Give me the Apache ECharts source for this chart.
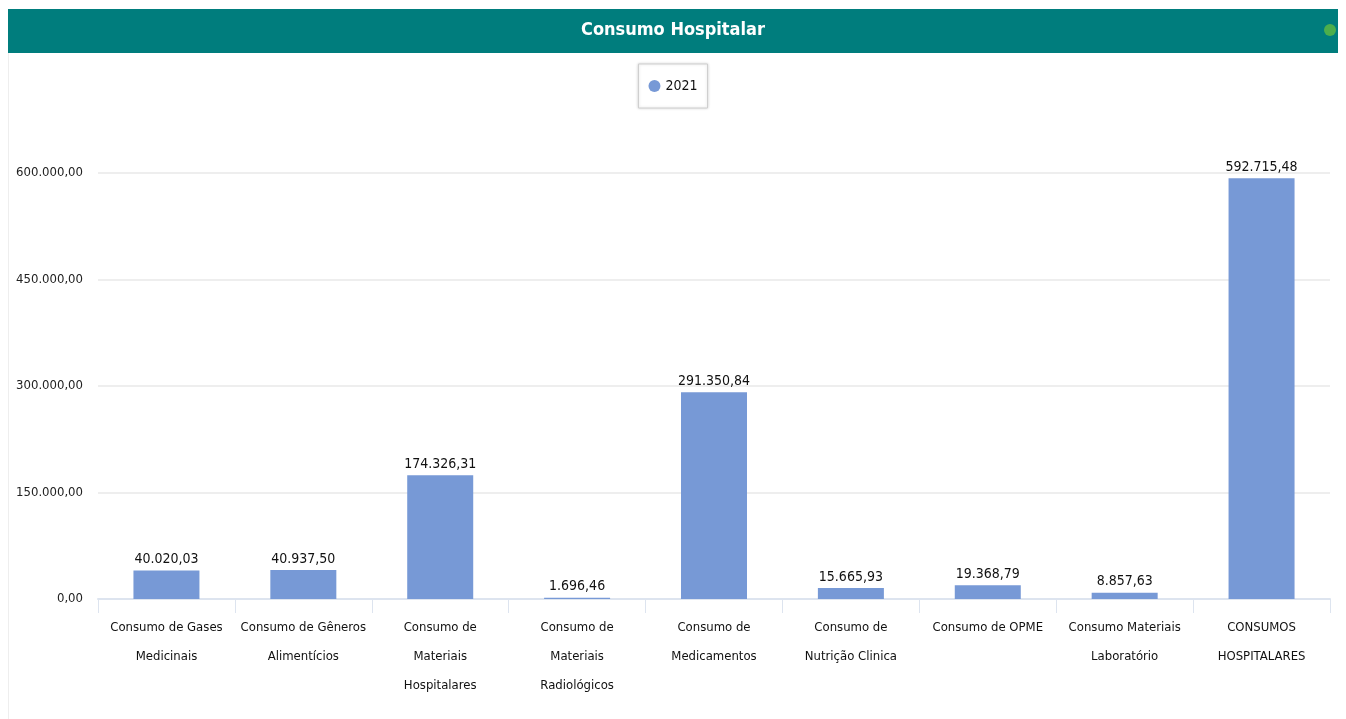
<!DOCTYPE html>
<html>
<head>
<meta charset="utf-8">
<script src="https://cdn.jsdelivr.net/npm/echarts@6/dist/echarts.min.js"></script>
<style>
  html, body { margin: 0; padding: 0; background: #fff; }
  #chart { width: 1346px; height: 719px; }
</style>
</head>
<body>
<div id="chart"></div>
<script>
const categories = [
  "Consumo de Gases\nMedicinais",
  "Consumo de Gêneros\nAlimentícios",
  "Consumo de\nMateriais\nHospitalares",
  "Consumo de\nMateriais\nRadiológicos",
  "Consumo de\nMedicamentos",
  "Consumo de\nNutrição Clinica",
  "Consumo de OPME",
  "Consumo Materiais\nLaboratório",
  "CONSUMOS\nHOSPITALARES"
];
const values2021 = [40020.03, 40937.5, 174326.31, 1696.46, 291350.84, 15665.93, 19368.79, 8857.63, 592715.48];
const yTicks = { min: 0, max: 600000, interval: 150000 };

const FONT = '"Liberation Sans Narrow", "DejaVu Sans Condensed", "Roboto", sans-serif';

// pt-BR style number: 600.000,00
function fmt(v) {
  const [int, dec] = Number(v).toFixed(2).split(".");
  return int.replace(/\B(?=(\d{3})+(?!\d))/g, ".") + "," + dec;
}

const chart = echarts.init(document.getElementById("chart"));
chart.setOption({
  animation: false,
  textStyle: { fontFamily: FONT },
  graphic: [
    { type: "rect", left: 8, top: 9, shape: { width: 1330, height: 44 }, style: { fill: "#007d7d" } },
    { type: "rect", left: 8, top: 53, shape: { width: 1, height: 666 }, style: { fill: "#eeeeee" } },
    { type: "text", left: "center", top: 21, style: { text: "Consumo Hospitalar", fill: "#fff", font: 'bold 18px ' + FONT } },
    { type: "circle", left: 1324, top: 24, shape: { r: 6 }, style: { fill: "#4cae4c" } }
  ],
  legend: {
    top: 64,
    left: "center",
    data: ["2021"],
    icon: "circle",
    itemWidth: 12,
    itemHeight: 12,
    itemGap: 6,
    padding: [15, 10],
    borderColor: "#cfcfcf",
    borderWidth: 1,
    shadowColor: "rgba(0,0,0,0.15)",
    shadowBlur: 3,
    backgroundColor: "#fff",
    textStyle: { fontSize: 14, color: "#111", fontFamily: FONT }
  },
  grid: { left: 98, right: 16, top: 173, bottom: 120 },
  xAxis: {
    type: "category",
    data: categories,
    axisLine: { lineStyle: { color: "#dde4ef", width: 2 } },
    axisTick: { show: true, alignWithLabel: false, length: 14, lineStyle: { color: "#dde4ef" } },
    axisLabel: { interval: 0, color: "#111", fontSize: 13, lineHeight: 29, margin: 14, fontFamily: FONT }
  },
  yAxis: {
    type: "value",
    min: yTicks.min,
    max: yTicks.max,
    interval: yTicks.interval,
    axisLine: { show: false },
    axisTick: { show: false },
    splitLine: { lineStyle: { color: "#eeeeee", width: 2 } },
    axisLabel: { color: "#222", fontSize: 13, margin: 15, formatter: fmt, fontFamily: FONT }
  },
  series: [{
    name: "2021",
    type: "bar",
    data: values2021,
    barWidth: 66,
    itemStyle: { color: "#7799d6" },
    label: { show: true, position: "top", distance: 4, color: "#111", fontSize: 14, formatter: p => fmt(p.value), fontFamily: FONT }
  }]
});
</script>
</body>
</html>
